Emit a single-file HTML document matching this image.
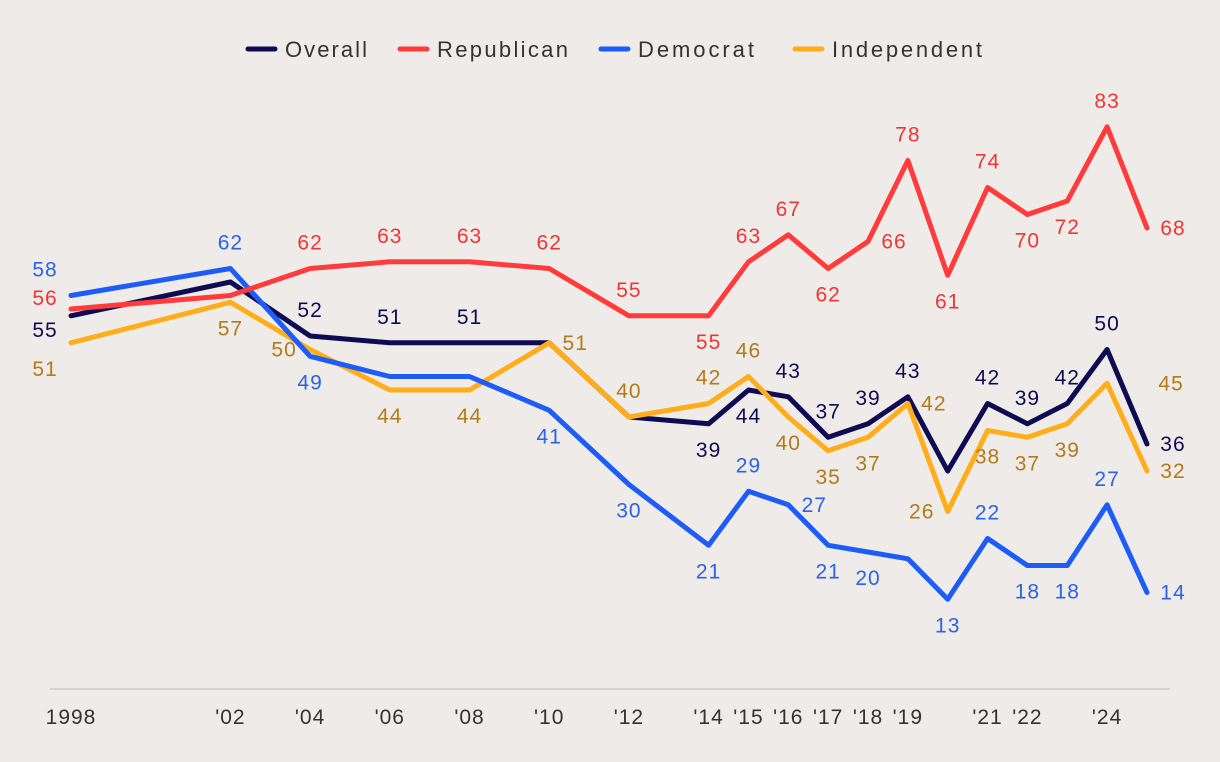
<!DOCTYPE html>
<html><head><meta charset="utf-8"><style>
body{margin:0;background:#efebe8;font-family:"Liberation Sans",sans-serif;}
svg{display:block}
</style></head><body>
<svg id="chart" width="1220" height="762" viewBox="0 0 1220 762">
<rect width="1220" height="762" fill="#efebe8"/>
<g id="legend"></g>
<line x1="50" x2="1170" y1="689" y2="689" stroke="#cfcac6" stroke-width="1.5"/>
<g id="ticks"></g>
<g id="lines"></g>
<g id="labels"></g>
</svg>
<script>
const years=[1998,2002,2004,2006,2008,2010,2012,2014,2015,2016,2017,2018,2019,2020,2021,2022,2023,2024,2025];
const tickYears=[1998,2002,2004,2006,2008,2010,2012,2014,2015,2016,2017,2018,2019,2021,2022,2024];
const tickLabels=["1998","'02","'04","'06","'08","'10","'12","'14","'15","'16","'17","'18","'19","'21","'22","'24"];
const overall=[55,60,52,51,51,51,40,39,44,43,37,39,43,32,42,39,42,50,36];
const republican=[56,58,62,63,63,62,55,55,63,67,62,66,78,61,74,70,72,83,68];
const democrat=[58,62,49,46,46,41,30,21,29,27,21,20,19,13,22,18,18,27,14];
const independent=[51,57,50,44,44,51,40,42,46,40,35,37,42,26,38,37,39,45,32];
// label placement codes: a=above b=below l=left r=right R=far right u=slight up d=slight down, n=none
const posOverall=["ld","n","a","a","a","n","n","b","b","a","a","a","a","n","a","a","a","a","r"];
const posRep=["lu","n","a","a","a","a","a","b","a","a","b","r","a","b","a","b","b","a","r"];
const posDem=["al","a","b","n","n","b","b","b","a","r","b","b","n","b","a","b","b","a","r"];
const posInd=["bl","b","l","b","b","r","a","a","a","b","b","b","r","l","b","b","b","R","r"];
const series=[
 {name:"Overall",data:overall,pos:posOverall,color:"#0e0b52",lc:"#0e0b52"},
 {name:"Independent",data:independent,pos:posInd,color:"#ffad1a",lc:"#b27a1a"},
 {name:"Democrat",data:democrat,pos:posDem,color:"#1d5cf6",lc:"#2a62e8"},
 {name:"Republican",data:republican,pos:posRep,color:"#ff3b3b",lc:"#f03535"},
];
const legendOrder=["Overall","Republican","Democrat","Independent"];
const NS="http://www.w3.org/2000/svg";
const xs=y=>71+(y-1998)*39.85;
const ys=v=>687-v*6.75;
function mk(t,a,p){const e=document.createElementNS(NS,t);for(const k in a)e.setAttribute(k,a[k]);p.appendChild(e);return e;}
const ticks=document.getElementById('ticks');
tickYears.forEach((y,i)=>{const t=mk('text',{x:xs(y),y:724,'text-anchor':'middle','font-size':21,'letter-spacing':1,fill:'#333'},ticks);


t.textContent=tickLabels[i];});
const lines=document.getElementById('lines'),labels=document.getElementById('labels');
series.forEach(s=>{
 const d=s.data.map((v,i)=>(i?'L':'M')+xs(years[i]).toFixed(1)+','+ys(v).toFixed(1)).join(' ');
 const p=mk('path',{d:d,fill:'none',stroke:s.color,'stroke-width':5,'stroke-linejoin':'round','stroke-linecap':'round'},lines);
 
 
});
series.forEach(s=>{
 s.data.forEach((v,i)=>{
  const c=s.pos[i];if(c==='n')return;
  let x=xs(years[i]),y=ys(v)+7;
  if(c.includes('a'))y-=26;
  if(c.includes('b'))y+=26;
  if(c.includes('u'))y-=11;
  if(c.includes('d'))y+=14;
  if(c.includes('l'))x-=26;
  if(c.includes('r'))x+=26;
  if(c.includes('R'))x+=64;
  const t=mk('text',{x:x,y:y,'text-anchor':'middle','font-size':21,'letter-spacing':1,fill:s.lc},labels);
  
  
  t.textContent=v;
 });
});
const lg=document.getElementById('legend');
const legX={Overall:248,Republican:400,Democrat:601,Independent:795};
const legW={Overall:82,Republican:131,Democrat:116,Independent:150};
legendOrder.forEach(n=>{
 const s=series.find(q=>q.name===n);
 const lx=legX[n];
 const g=mk('g',{},lg);
 
 
 mk('line',{x1:lx,x2:lx+27,y1:49,y2:49,stroke:s.color,'stroke-width':5,'stroke-linecap':'round'},g);
 const t=mk('text',{x:lx+37,y:57,'font-size':22,fill:'#333',textLength:legW[n],lengthAdjust:'spacing'},g);
 t.textContent=n;
});
</script>
</body></html>
